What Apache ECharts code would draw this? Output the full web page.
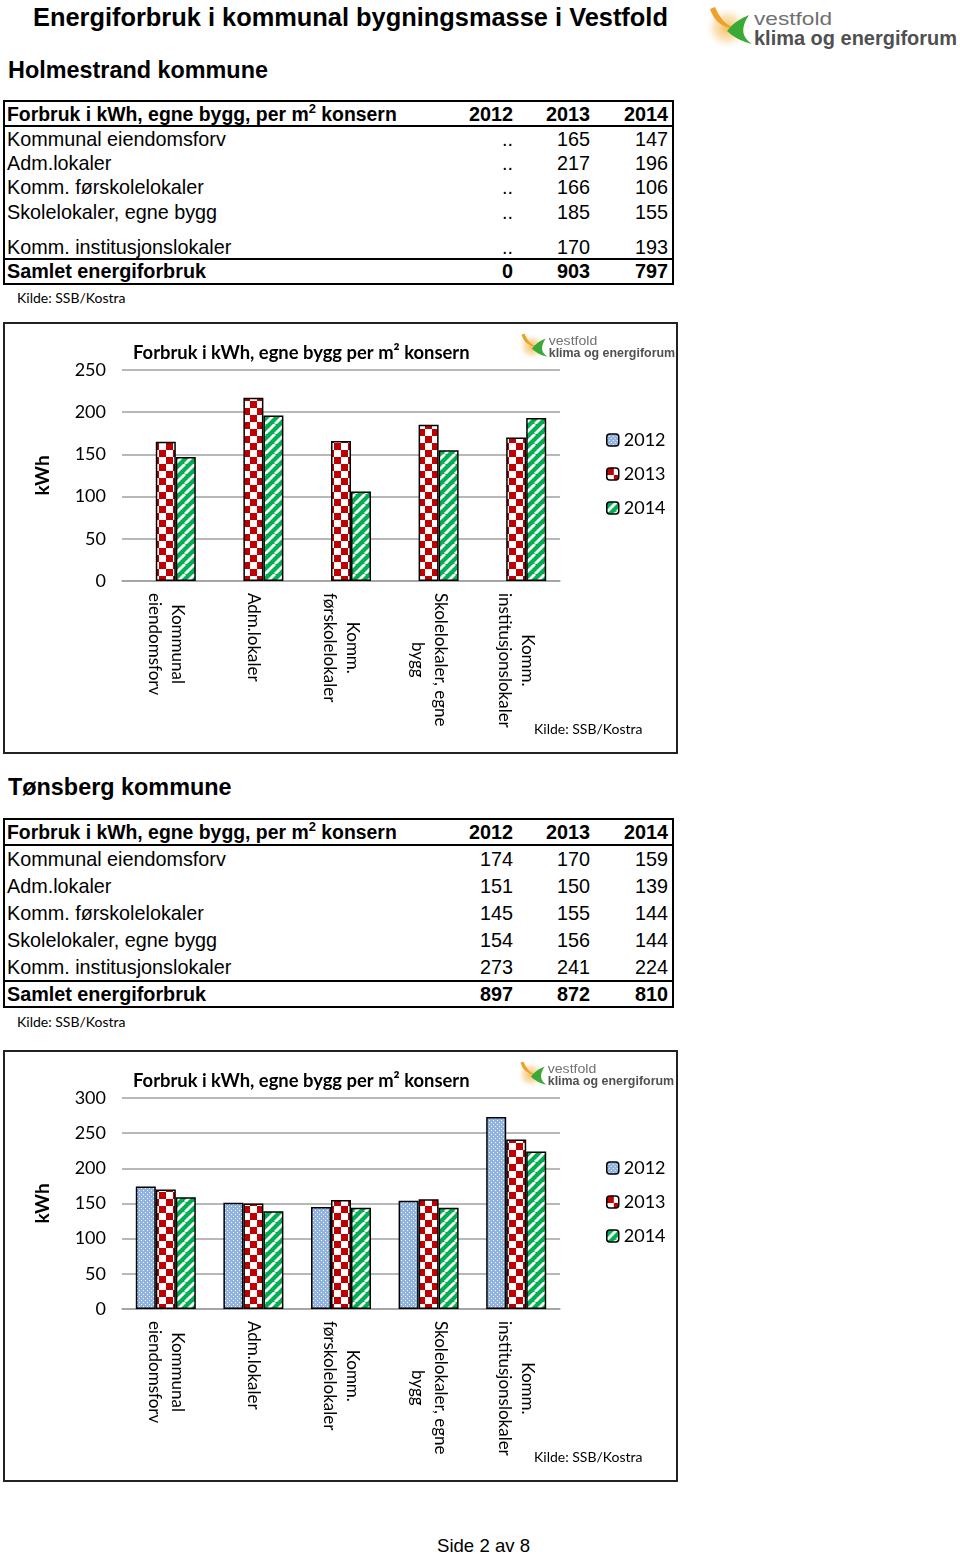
<!DOCTYPE html>
<html><head><meta charset="utf-8">
<script src="https://cdn.jsdelivr.net/npm/echarts/dist/echarts.min.js"></script>
<style>
body{margin:0;background:#fff;width:960px;height:1555px;position:relative;font-family:"Liberation Sans",Arial,sans-serif;color:#000;overflow:hidden;}
.abs{position:absolute;white-space:nowrap;}
.tbl{position:absolute;border:2px solid #000;box-sizing:border-box;}
.cell{position:absolute;height:24px;line-height:24px;font-size:19.8px;white-space:nowrap;}
.chartbox{position:absolute;border:2px solid #222;box-sizing:border-box;background:#fff;}
.kilde{position:absolute;font-family:Lato,"Open Sans",sans-serif;font-size:14px;white-space:nowrap;}
</style>
</head><body>
<div class="abs" style="left:33px;top:0px;font-size:25.4px;font-weight:bold;line-height:34px;">Energiforbruk i kommunal bygningsmasse i Vestfold</div>
<div id="logoTop" class="abs" style="left:703px;top:3px;width:257px;height:46px;"></div>
<div class="abs" style="left:8px;top:56px;font-size:23.4px;font-weight:bold;line-height:28px;">Holmestrand kommune</div>
<div id="tbl1"></div>
<div class="kilde" style="left:17px;top:289px;">Kilde: SSB/Kostra</div>
<div id="c1" class="chartbox" style="left:3px;top:322px;width:675px;height:432px;"></div>
<div id="logoC1" class="abs" style="left:517px;top:331px;width:160px;height:29px;"></div>

<div class="abs" style="left:8px;top:773px;font-size:23.4px;font-weight:bold;line-height:28px;">Tønsberg kommune</div>
<div id="tbl2"></div>
<div class="kilde" style="left:17px;top:1013px;">Kilde: SSB/Kostra</div>
<div id="c2" class="chartbox" style="left:3px;top:1050px;width:675px;height:432px;"></div>
<div id="logoC2" class="abs" style="left:516px;top:1059px;width:160px;height:29px;"></div>

<div class="abs" style="left:437px;top:1535px;font-size:18.6px;line-height:22px;">Side 2 av 8</div>

<script>
// ---------- DATA ----------
const years = ['2012', '2013', '2014'];
const rowNames = ['Kommunal eiendomsforv', 'Adm.lokaler', 'Komm. førskolelokaler', 'Skolelokaler, egne bygg', 'Komm. institusjonslokaler'];
const axisLabels = ['Kommunal\neiendomsforv', 'Adm.lokaler', 'Komm.\nførskolelokaler', 'Skolelokaler, egne\nbygg', 'Komm.\ninstitusjonslokaler'];
const tableHeader = 'Forbruk i kWh, egne bygg, per m';
const totalLabel = 'Samlet energiforbruk';
const chartTitle = 'Forbruk i kWh, egne bygg per m² konsern';

// Holmestrand (".." = missing)
const holm2012 = [null, null, null, null, null];
const holm2013 = [165, 217, 166, 185, 170];
const holm2014 = [147, 196, 106, 155, 193];
const holmTotals = [0, 903, 797];
const holmYMax = 250;

// Tønsberg
const tons2012 = [174, 151, 145, 154, 273];
const tons2013 = [170, 150, 155, 156, 241];
const tons2014 = [159, 139, 144, 144, 224];
const tonsTotals = [897, 872, 810];
const tonsYMax = 300;

// ---------- LOGO ----------
let logoN = 0;
function logo(id) {
  logoN++;
  const g = 'lg' + logoN;
  document.getElementById(id).innerHTML =
  '<svg viewBox="0 0 257 46" width="100%" height="100%" preserveAspectRatio="none">' +
  '<defs><radialGradient id="' + g + '" cx="0.5" cy="0.5" r="0.5">' +
  '<stop offset="0" stop-color="#f4b23c" stop-opacity="0.85"/>' +
  '<stop offset="0.55" stop-color="#f7d18e" stop-opacity="0.55"/>' +
  '<stop offset="1" stop-color="#ffffff" stop-opacity="0"/></radialGradient></defs>' +
  '<ellipse cx="24" cy="25" rx="23" ry="22" fill="url(#' + g + ')"/>' +
  '<path d="M7 6 Q13 24 30 25 Q18 19 12 4 Z" fill="#eea22a"/>' +
  '<path d="M46 12 Q31 18 24 28 Q33 37 49 41 Q33 31 46 12 Z" fill="#3aa935"/>' +
  '<text x="51" y="22" font-family="Liberation Sans, Arial" font-size="19" fill="#707070" textLength="78" lengthAdjust="spacingAndGlyphs">vestfold</text>' +
  '<text x="51" y="42" font-family="Liberation Sans, Arial" font-size="20" font-weight="bold" fill="#505050" textLength="203" lengthAdjust="spacingAndGlyphs">klima og energiforum</text>' +
  '</svg>';
}
logo('logoTop'); logo('logoC1'); logo('logoC2');

// ---------- TABLES ----------
function table(id, top, height, headerY, rowYs, totalY, lineHead, lineTot, cols, totals) {
  const colRight = [513, 590, 668];
  let h = '<div class="tbl" style="left:3px;top:' + top + 'px;width:671px;height:' + height + 'px;"></div>';
  h += '<div class="abs" style="left:3px;width:671px;top:' + lineHead + 'px;border-top:2px solid #000;"></div>';
  h += '<div class="abs" style="left:3px;width:671px;top:' + lineTot + 'px;border-top:2px solid #000;"></div>';
  const cell = (x, y, txt, bold, right, fs) => {
    const st = right ? 'left:' + (x - 100) + 'px;width:100px;text-align:right;' : 'left:' + x + 'px;';
    return '<div class="cell" style="' + st + 'top:' + (y - 12) + 'px;' + (bold ? 'font-weight:bold;' : '') + (fs ? 'font-size:' + fs + 'px;' : '') + '">' + txt + '</div>';
  };
  h += cell(7, headerY, tableHeader + '<sup style="font-size:13px;vertical-align:0;position:relative;top:-8px;">2</sup> konsern', true, false, 19.4);
  years.forEach((y, i) => h += cell(colRight[i], headerY, y, true, true));
  rowNames.forEach((n, r) => {
    h += cell(7, rowYs[r], n, false, false);
    cols.forEach((c, i) => h += cell(colRight[i], rowYs[r], c[r] == null ? '..' : c[r], false, true));
  });
  h += cell(7, totalY, totalLabel, true, false);
  totals.forEach((t, i) => h += cell(colRight[i], totalY, t, true, true));
  document.getElementById(id).innerHTML = h;
}
table('tbl1', 100, 185, 114, [139, 163, 187, 212, 247], 271, 125, 258, [holm2012, holm2013, holm2014], holmTotals);
table('tbl2', 818, 190, 832, [859, 886, 913, 940, 967], 994, 844, 980, [tons2012, tons2013, tons2014], tonsTotals);

// ---------- PATTERNS ----------
function pattern(kind) {
  const c = document.createElement('canvas');
  const g = c.getContext('2d');
  if (kind === 'dots') {
    c.width = c.height = 4;
    g.fillStyle = '#8fb2de'; g.fillRect(0, 0, 4, 4);
    g.fillStyle = '#ffffff'; g.fillRect(0, 0, 1, 1); g.fillRect(2, 2, 1, 1);
  } else if (kind === 'check') {
    c.width = c.height = 14;
    g.fillStyle = '#ffffff'; g.fillRect(0, 0, 14, 14);
    g.fillStyle = '#c00000'; g.fillRect(0, 0, 7, 7); g.fillRect(7, 7, 7, 7);
  } else {
    const s = 10;
    c.width = c.height = s;
    g.fillStyle = '#00b050'; g.fillRect(0, 0, s, s);
    g.strokeStyle = '#ffffff'; g.lineWidth = 2.8;
    [-s, 0, s].forEach(k => { g.beginPath(); g.moveTo(k, s); g.lineTo(k + s, 0); g.stroke(); });
  }
  return { image: c, repeat: 'repeat' };
}
const fills = [pattern('dots'), pattern('check'), pattern('stripe')];

// ---------- CHARTS ----------
const FONT = 'Lato';
function makeChart(dom, s2012, s2013, s2014, yMax) {
  const chart = echarts.init(document.getElementById(dom));
  const data = [s2012, s2013, s2014];
  chart.setOption({
    animation: false,
    title: { text: chartTitle, left: 123, top: 15,
      textStyle: { fontFamily: FONT, fontWeight: 'bold', fontSize: 18.4, color: '#000' } },
    legend: { orient: 'vertical', left: 596, top: 102, itemWidth: 12, itemHeight: 12, itemGap: 16,
      data: years, textStyle: { fontFamily: FONT, fontSize: 18, color: '#000' },
      itemStyle: { borderColor: '#000', borderWidth: 1.5 } },
    grid: { left: 117, top: 46, width: 438, height: 211 },
    xAxis: { type: 'category', data: axisLabels,
      axisTick: { show: false },
      axisLine: { lineStyle: { color: '#a0a0a0', width: 1.5 } },
      axisLabel: { rotate: -90, margin: 12, interval: 0,
        formatter: v => v.split('\n').map(l => '{c|' + l + '}').join('\n'),
        rich: { c: { align: 'center', fontFamily: FONT, fontSize: 17, lineHeight: 23, color: '#000' } } } },
    yAxis: { type: 'value', min: 0, max: yMax, interval: 50,
      name: 'kWh', nameLocation: 'middle', nameRotate: 90, nameGap: 70,
      nameTextStyle: { fontFamily: FONT, fontWeight: 'bold', fontSize: 19, color: '#000' },
      axisLabel: { margin: 16, fontFamily: FONT, fontSize: 18, color: '#000' },
      splitLine: { lineStyle: { color: '#a0a0a0', width: 1.5 } } },
    graphic: [{ type: 'text', left: 529, top: 398,
      style: { text: 'Kilde: SSB/Kostra', font: '14px Lato', fill: '#000' } }],
    series: years.map((y, i) => ({
      name: y, type: 'bar', data: data[i], barWidth: 20, barGap: '0%',
      itemStyle: { color: fills[i], borderColor: '#000', borderWidth: 1.5 }
    }))
  });
}
makeChart('c1', holm2012, holm2013, holm2014, holmYMax);
makeChart('c2', tons2012, tons2013, tons2014, tonsYMax);
</script>
</body></html>
